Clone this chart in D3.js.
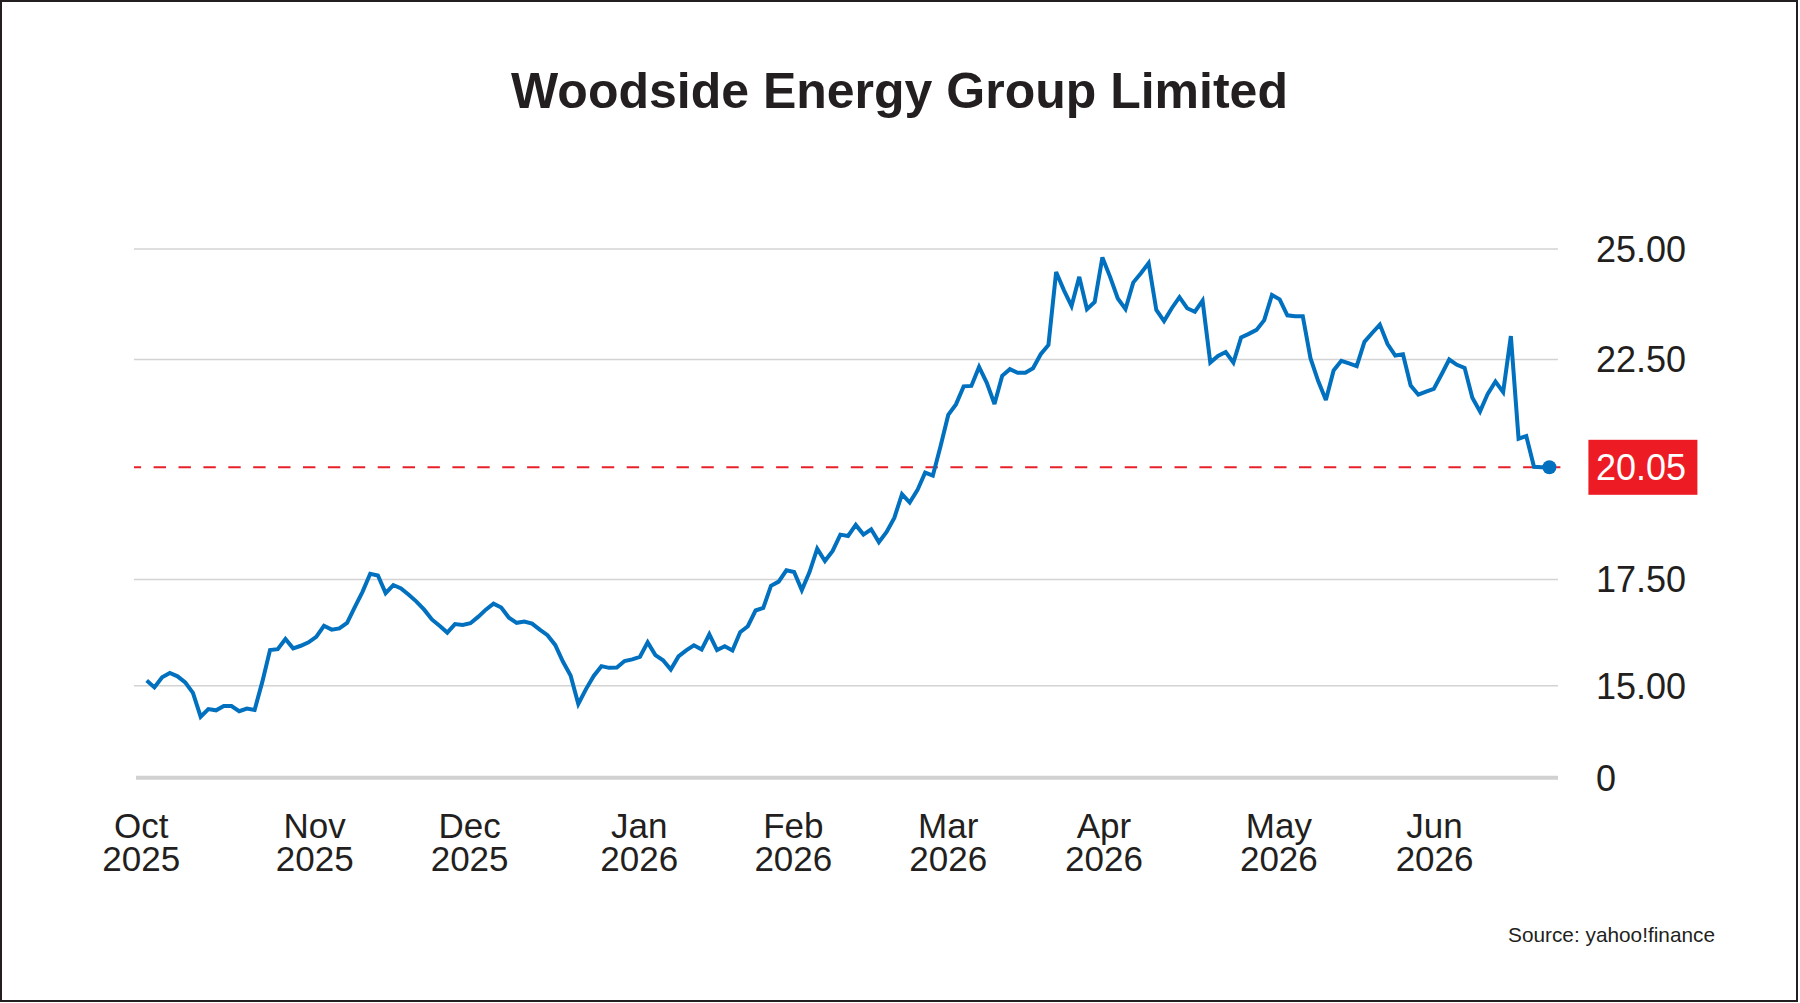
<!DOCTYPE html>
<html>
<head>
<meta charset="utf-8">
<script src="https://cdn.jsdelivr.net/npm/d3@7"></script>
<style>
  body { margin: 0; background: #fff; }
  svg { display: block; }
  text { font-family: "Liberation Sans", Arial, sans-serif; fill: #231f20; }
</style>
</head>
<body>
<div id="my_chart"></div>
<script>
var chartTitle = "Woodside Energy Group Limited";
var sourceNote = "Source: yahoo!finance";
var lastPrice = 20.05;

// daily closes, Oct 2025 - Jun 2026
var prices = [
  15.12, 14.96, 15.20, 15.30, 15.22, 15.08, 14.83, 14.27, 14.45, 14.42,
  14.52, 14.52, 14.40, 14.46, 14.43, 15.09, 15.84, 15.86, 16.10, 15.88,
  15.94, 16.02, 16.15, 16.41, 16.32, 16.35, 16.48, 16.85, 17.21, 17.63,
  17.59, 17.18, 17.37, 17.29, 17.14, 16.98, 16.79, 16.56, 16.41, 16.25,
  16.45, 16.43, 16.47, 16.62, 16.79, 16.93, 16.84, 16.60, 16.48, 16.51,
  16.46, 16.32, 16.19, 15.96, 15.57, 15.24, 14.57, 14.92, 15.23, 15.46,
  15.42, 15.43, 15.58, 15.62, 15.68, 16.02, 15.72, 15.60, 15.38, 15.69,
  15.83, 15.95, 15.85, 16.21, 15.84, 15.93, 15.83, 16.26, 16.40, 16.77,
  16.83, 17.35, 17.45, 17.71, 17.67, 17.25, 17.67, 18.20, 17.92, 18.15,
  18.52, 18.49, 18.74, 18.52, 18.64, 18.35, 18.58, 18.90, 19.44, 19.25,
  19.53, 19.93, 19.86, 20.53, 21.24, 21.48, 21.89, 21.90, 22.33, 21.97,
  21.49, 22.13, 22.28, 22.20, 22.20, 22.30, 22.62, 22.83, 24.48, 24.07,
  23.71, 24.37, 23.64, 23.80, 24.81, 24.37, 23.88, 23.64, 24.24, 24.45,
  24.68, 23.62, 23.37, 23.66, 23.91, 23.66, 23.58, 23.83, 22.43, 22.58,
  22.67, 22.43, 23.00, 23.08, 23.17, 23.39, 23.96, 23.86, 23.50, 23.48,
  23.48, 22.53, 22.01, 21.58, 22.25, 22.47, 22.41, 22.35, 22.90, 23.10,
  23.29, 22.85, 22.59, 22.62, 21.91, 21.70, 21.77, 21.83, 22.16, 22.50,
  22.38, 22.31, 21.63, 21.32, 21.72, 22.00, 21.76, 23.03, 20.70, 20.76,
  20.06, 20.05, 20.05
];

var monthNames = ["Oct", "Nov", "Dec", "Jan", "Feb", "Mar", "Apr", "May", "Jun"];
var monthYears = ["2025", "2025", "2025", "2026", "2026", "2026", "2026", "2026", "2026"];
var monthTickIdx = [-0.7, 21.8, 41.9, 63.9, 83.9, 104, 124.2, 146.9, 167.1];

var yTicks = [15, 17.5, 22.5, 25];
var yTickLabels = ["15.00", "17.50", "22.50", "25.00"];
var yFloorLabel = "0";

var width = 1800, height = 1003;
var plotLeft = 134, plotRight = 1558, plotBottom = 777.7;

var svg = d3.select("#my_chart")
  .append("svg")
    .attr("width", width)
    .attr("height", height);

svg.append("rect")
  .attr("x", 1).attr("y", 1)
  .attr("width", width - 4).attr("height", height - 3)
  .style("fill", "#fff")
  .style("stroke", "#231f20")
  .style("stroke-width", 2);

var x = d3.scaleLinear()
  .domain([0, prices.length - 1])
  .range([146.7, 1549.4]);

// axis is broken below 15, so the scale is piecewise on the grid lines
var y = d3.scaleLinear()
  .domain([15, 17.5, 22.5, 25])
  .range([685.7, 579.5, 359.5, 249]);

// title
svg.append("text")
  .attr("x", 899.5)
  .attr("y", 107.5)
  .attr("text-anchor", "middle")
  .style("font-size", "50px")
  .style("font-weight", "bold")
  .text(chartTitle);

// grid lines
svg.append("g")
  .selectAll("line")
  .data(yTicks)
  .enter()
  .append("line")
    .attr("x1", plotLeft)
    .attr("x2", plotRight)
    .attr("y1", function(d) { return y(d); })
    .attr("y2", function(d) { return y(d); })
    .style("stroke", "#d3d3d3")
    .style("stroke-width", 1.6);

// baseline
svg.append("line")
  .attr("x1", plotLeft + 2)
  .attr("x2", plotRight)
  .attr("y1", plotBottom)
  .attr("y2", plotBottom)
  .style("stroke", "#d1d1d1")
  .style("stroke-width", 4);

// y labels
svg.append("g")
  .selectAll("text")
  .data(yTicks)
  .enter()
  .append("text")
    .attr("x", 1596)
    .attr("y", function(d) { return y(d); })
    .attr("dy", "0.36em")
    .style("font-size", "36px")
    .text(function(d, i) { return yTickLabels[i]; });

svg.append("text")
  .attr("x", 1596)
  .attr("y", plotBottom)
  .attr("dy", "0.36em")
  .style("font-size", "36px")
  .text(yFloorLabel);

// x labels: month on top, year below
var xTicks = svg.append("g")
  .selectAll("g")
  .data(monthNames)
  .enter()
  .append("g")
    .attr("transform", function(d, i) { return "translate(" + x(monthTickIdx[i]) + ",0)"; });

xTicks.append("text")
  .attr("y", 838)
  .attr("text-anchor", "middle")
  .style("font-size", "35px")
  .text(function(d) { return d; });

xTicks.append("text")
  .attr("y", 871)
  .attr("text-anchor", "middle")
  .style("font-size", "35px")
  .text(function(d, i) { return monthYears[i]; });

// last price reference line
svg.append("line")
  .attr("x1", plotLeft)
  .attr("x2", 1563)
  .attr("y1", y(lastPrice))
  .attr("y2", y(lastPrice))
  .style("stroke", "#e8202a")
  .style("stroke-width", 2)
  .style("stroke-dasharray", "12.4,12.5")
  .style("stroke-dashoffset", 5.3);

// price line
var line = d3.line()
  .x(function(d, i) { return x(i); })
  .y(function(d) { return y(d); });

svg.append("path")
  .datum(prices)
  .attr("d", line)
  .style("fill", "none")
  .style("stroke", "#0070bf")
  .style("stroke-width", 4)
  .style("stroke-linejoin", "miter")
  .style("stroke-miterlimit", 3);

svg.append("circle")
  .attr("cx", x(prices.length - 1))
  .attr("cy", y(prices[prices.length - 1]))
  .attr("r", 7)
  .style("fill", "#0070bf");

// price tag
svg.append("rect")
  .attr("x", 1588.4)
  .attr("y", y(lastPrice) - 27.5)
  .attr("width", 109)
  .attr("height", 55)
  .style("fill", "#ed1c24");

svg.append("text")
  .attr("x", 1596)
  .attr("y", y(lastPrice))
  .attr("dy", "0.36em")
  .style("font-size", "36px")
  .style("fill", "#fff")
  .text(lastPrice.toFixed(2));

// source note
svg.append("text")
  .attr("x", 1715)
  .attr("y", 942)
  .attr("text-anchor", "end")
  .style("font-size", "20.8px")
  .text(sourceNote);
</script>
</body>
</html>
